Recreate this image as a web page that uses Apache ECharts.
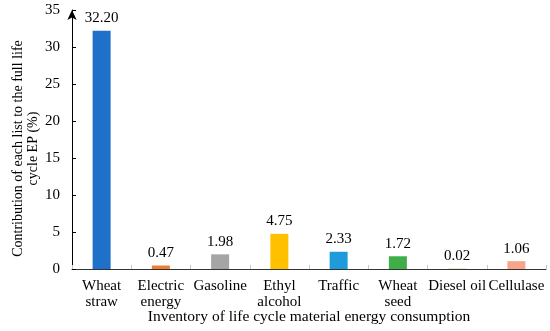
<!DOCTYPE html>
<html><head><meta charset="utf-8">
<script src="https://cdn.jsdelivr.net/npm/echarts@6/dist/echarts.min.js"></script>
<style>html,body{margin:0;padding:0;background:#fff}#c{width:550px;height:331px}</style>
</head><body><div id="c"></div>
<script>
const categories = ['Wheat\nstraw','Electric\nenergy','Gasoline','Ethyl\nalcohol','Traffic','Wheat\nseed','Diesel oil','Cellulase'];
const values = [32.20, 0.47, 1.98, 4.75, 2.33, 1.72, 0.02, 1.06];
const colors = ['#1F70C8','#ED7D31','#A5A5A5','#FFC000','#1F9BDB','#3FAE49','#7F6000','#F7A58A'];
const yTicks = [0,5,10,15,20,25,30,35];
const F = 'Liberation Serif, Times New Roman, serif';
const chart = echarts.init(document.getElementById('c'));
chart.setOption({
  animation:false,
  grid:{left:72,right:4,top:10,bottom:62,containLabel:false,outerBoundsMode:'none'},
  xAxis:{type:'category',data:categories,
    axisLine:{lineStyle:{color:'#333',width:1}},
    axisTick:{show:true,inside:true,length:4,lineStyle:{color:'#c8c8c8'}},
    axisLabel:{fontFamily:F,fontSize:15,color:'#000',lineHeight:16,margin:9,interval:0},
    name:'Inventory of life cycle material energy consumption',nameLocation:'middle',nameGap:40,nameMoveOverlap:false,
    nameTextStyle:{fontFamily:F,fontSize:15.5,color:'#000'}},
  yAxis:{type:'value',min:0,max:35,interval:5,
    axisLine:{show:true,symbol:['none','arrow'],symbolSize:[7,10],lineStyle:{color:'#000',width:1}},
    axisTick:{show:true,inside:true,length:4,lineStyle:{color:'#000'}},
    splitLine:{show:false},
    axisLabel:{fontFamily:F,fontSize:15,color:'#000',margin:12,formatter:v=>yTicks.includes(v)?String(v):''},
    name:'Contribution of each list to the full life\ncycle EP (%)',nameLocation:'middle',nameGap:31,nameRotate:90,nameMoveOverlap:false,
    nameTextStyle:{fontFamily:F,fontSize:14,color:'#000',lineHeight:15,padding:[0,18,0,0]}},
  series:[{type:'bar',barWidth:18,
    data:values.map((v,i)=>({value:v,itemStyle:{color:colors[i]}})),
    label:{show:true,position:'top',distance:5,fontFamily:F,fontSize:15,color:'#000',formatter:p=>p.value.toFixed(2)}}]
});
</script></body></html>
